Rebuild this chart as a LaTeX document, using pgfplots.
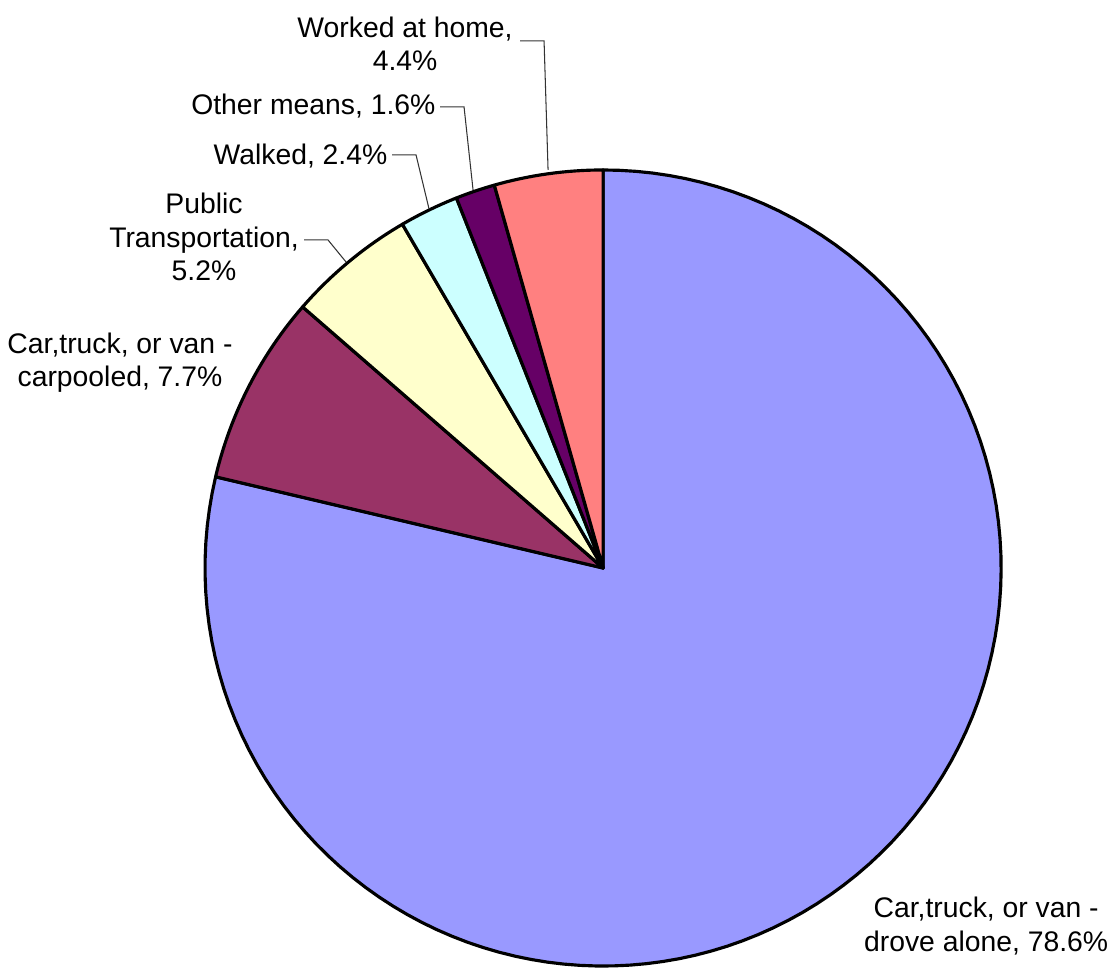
\documentclass[border=0pt]{standalone}
\usepackage{fontspec}
\setmainfont{Liberation Sans}
\usepackage{pgfplots}
\usepackage{pgfplotstable}
\pgfplotsset{compat=1.18}

\definecolor{drove}{HTML}{9999FF}
\definecolor{carpool}{HTML}{993366}
\definecolor{public}{HTML}{FFFFCC}
\definecolor{walked}{HTML}{CCFFFF}
\definecolor{other}{HTML}{660066}
\definecolor{home}{HTML}{FF8080}

% share of workers by means of transportation (percent), clockwise from 12 o'clock
\pgfplotstableread{
value color
78.6  drove
7.7   carpool
5.2   public
2.4   walked
1.6   other
4.4   home
}\data
\def\total{99.9}

% pixel position of the reference -> axis units (centre 603,568; radius 398)
\def\px#1#2{axis cs:{(#1-603)/398},{(568-#2)/398}}

\begin{document}
\begin{tikzpicture}[font=\fontsize{8.1}{9.5}\selectfont]
\begin{axis}[
    scale only axis,
    width=11.206cm, height=9.709cm,
    xmin=-1.515, xmax=1.286,
    ymin=-1.0, ymax=1.427,
    hide axis,
    clip=false,
]
% keep the page as large as the whole axis area
\path (rel axis cs:0,0) rectangle (rel axis cs:1,1);

\gdef\cum{0}
\pgfplotsinvokeforeach{0,...,5}{
    \pgfplotstablegetelem{#1}{value}\of\data \let\val\pgfplotsretval
    \pgfplotstablegetelem{#1}{color}\of\data \let\col\pgfplotsretval
    \pgfmathsetmacro\aE{90-(\cum/\total)*360}
    \pgfmathparse{\cum+\val}\xdef\cum{\pgfmathresult}
    \pgfmathsetmacro\aS{90-(\cum/\total)*360}
    \edef\tmp{\noexpand\addplot[fill=\col, draw=black, line width=0.9pt,
        line join=round, domain=\aS:\aE, samples=120]
        ({cos(\noexpand\x)},{sin(\noexpand\x)}) -- (axis cs:0,0) -- cycle;}
    \tmp
}

% leader lines
\draw[line width=0.3pt, black!80] (\px{520}{41}) -- (\px{544}{41}) -- (\px{548}{170});
\draw[line width=0.3pt, black!80] (\px{440}{107}) -- (\px{464}{107}) -- (\px{473}{190});
\draw[line width=0.3pt, black!80] (\px{392}{155}) -- (\px{416}{155}) -- (\px{429}{209});
\draw[line width=0.3pt, black!80] (\px{304}{240}) -- (\px{328}{240}) -- (\px{346}{262});

% labels
\node[align=center, inner sep=0pt] at (\px{405}{44}) {Worked at home,\\4.4\%};
\node[anchor=east, inner sep=0pt] at (\px{436}{106}) {Other means, 1.6\%};
\node[anchor=east, inner sep=0pt] at (\px{388}{156}) {Walked, 2.4\%};
\node[align=center, inner sep=0pt] at (\px{204}{237}) {Public\\Transportation,\\5.2\%};
\node[align=center, inner sep=0pt] at (\px{120}{363}) {Car,truck, or van -\\carpooled, 7.7\%};
\node[align=center, inner sep=0pt] at (\px{986}{926}) {Car,truck, or van -\\drove alone, 78.6\%};
\end{axis}
\end{tikzpicture}
\end{document}
